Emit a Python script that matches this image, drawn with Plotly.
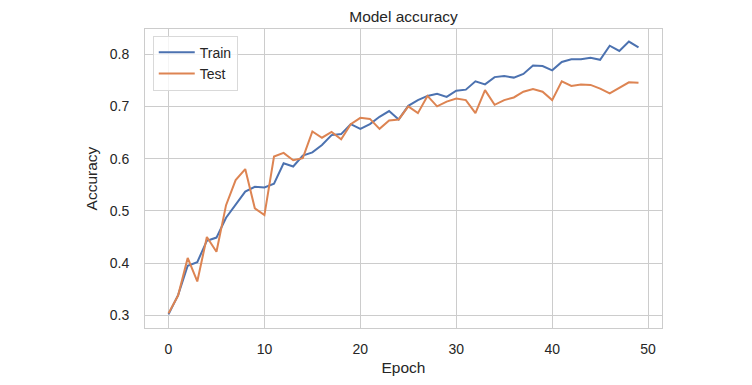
import plotly.graph_objects as go

epochs = list(range(50))
train_acc = [0.302, 0.339, 0.395, 0.402, 0.443, 0.449, 0.487, 0.513, 0.537, 0.546,
             0.545, 0.552, 0.591, 0.585, 0.606, 0.612, 0.626, 0.645, 0.647, 0.666,
             0.657, 0.666, 0.680, 0.691, 0.675, 0.701, 0.712, 0.720, 0.724, 0.718,
             0.730, 0.732, 0.748, 0.742, 0.756, 0.758, 0.755, 0.762, 0.778, 0.777,
             0.769, 0.785, 0.790, 0.790, 0.793, 0.789, 0.816, 0.806, 0.824, 0.813]
test_acc = [0.304, 0.338, 0.410, 0.365, 0.450, 0.422, 0.511, 0.559, 0.580, 0.505,
            0.492, 0.604, 0.611, 0.597, 0.601, 0.652, 0.640, 0.651, 0.637, 0.666,
            0.678, 0.676, 0.657, 0.673, 0.675, 0.700, 0.687, 0.720, 0.700, 0.709,
            0.715, 0.712, 0.687, 0.731, 0.703, 0.712, 0.717, 0.728, 0.733, 0.728,
            0.712, 0.748, 0.739, 0.742, 0.741, 0.734, 0.725, 0.736, 0.746, 0.745]
x_ticks = [0, 10, 20, 30, 40, 50]
y_ticks = [0.3, 0.4, 0.5, 0.6, 0.7, 0.8]

FONT = "Liberation Sans, Arial, sans-serif"
TXT = "#262626"
GRID = "#cccccc"

fig = go.Figure()
fig.add_trace(go.Scatter(x=epochs, y=train_acc, mode="lines", name="Train",
                         line=dict(color="#4c72b0", width=2)))
fig.add_trace(go.Scatter(x=epochs, y=test_acc, mode="lines", name="Test",
                         line=dict(color="#dd8452", width=2)))

fig.update_layout(
    width=744, height=377,
    margin=dict(l=137, r=90, t=21, b=57),
    paper_bgcolor="white", plot_bgcolor="white",
    font=dict(family=FONT, color=TXT, size=14),
    title=dict(text="Model accuracy", x=0.5, xref="paper", y=1 - 3 / 377,
               yref="container", xanchor="center", yanchor="top",
               pad=dict(t=0, b=0),
               font=dict(size=15.5, color=TXT, family=FONT)),
    showlegend=True,
    legend=dict(x=0.015, y=0.978, xanchor="left", yanchor="top",
                bgcolor="rgba(255,255,255,0.8)", bordercolor="#d9d9d9", borderwidth=1,
                font=dict(size=14, color=TXT), itemwidth=36,
                tracegroupgap=0),
)
fig.update_xaxes(
    range=[-2.45, 51.45], tickmode="array", tickvals=x_ticks,
    showgrid=True, gridcolor=GRID, gridwidth=1, zeroline=False,
    showline=True, linecolor=GRID, linewidth=1, mirror=True,
    ticks="", ticklabelstandoff=8,
    tickfont=dict(size=14, color=TXT),
    title=dict(text="Epoch", standoff=6, font=dict(size=15.5, color=TXT)),
)
fig.update_yaxes(
    range=[0.276, 0.848], tickmode="array", tickvals=y_ticks,
    tickformat=".1f",
    showgrid=True, gridcolor=GRID, gridwidth=1, zeroline=False,
    showline=True, linecolor=GRID, linewidth=1, mirror=True,
    ticks="", ticklabelstandoff=12,
    tickfont=dict(size=14, color=TXT),
    title=dict(text="Accuracy", standoff=8, font=dict(size=15.5, color=TXT)),
)

fig.write_html("out.html")
